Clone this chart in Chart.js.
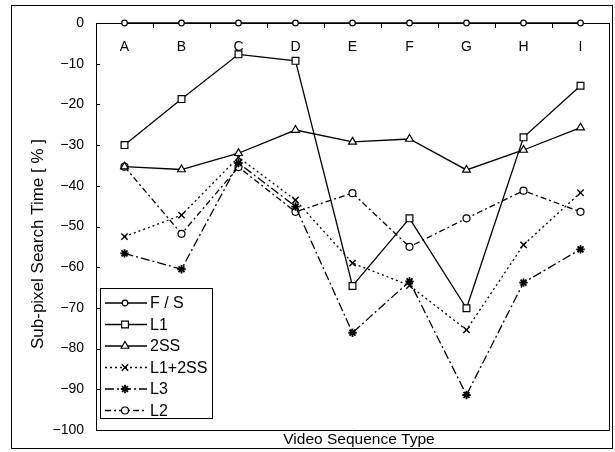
<!DOCTYPE html>
<html><head><meta charset="utf-8">
<script src="https://cdn.jsdelivr.net/npm/chart.js@4/dist/chart.umd.min.js"></script>
<style>html,body{margin:0;padding:0;background:#fff}#wrap{width:615px;height:452px;position:relative}</style>
</head><body><div id="wrap"><canvas id="c" width="615" height="452"></canvas></div>
<script>
const categories = ['A','B','C','D','E','F','G','H','I'];
const seriesNames = ['F / S','L1','2SS','L1+2SS','L3','L2'];
const fsValues    = [0,0,0,0,0,0,0,0,0];
const l1Values    = [-30,-18.7,-7.7,-9.3,-64.6,-48,-70.1,-28.1,-15.4];
const ss2Values   = [-35.3,-36,-32,-26.3,-29.2,-28.5,-36.1,-31.2,-25.7];
const l1ss2Values = [-52.5,-47.2,-33,-43.5,-59,-64.5,-75.4,-54.5,-41.7];
const l3Values    = [-56.6,-60.5,-34.4,-45.1,-76.1,-63.5,-91.4,-63.8,-55.6];
const l2Values    = [-35.3,-51.8,-35.4,-46.4,-41.8,-55,-48,-41.2,-46.4];
const yTickValues = [0,-10,-20,-30,-40,-50,-60,-70,-80,-90,-100];
const yTitle = 'Sub-pixel Search Time [ % ]';
const xTitle = 'Video Sequence Type';

const FONT = "'Liberation Sans', Arial, sans-serif";
Chart.defaults.font.family = FONT;
Chart.defaults.color = '#000';

const styles = [
  {pointStyle:'circle', radius:2.8, dash:[], pw:1.2},
  {pointStyle:'rect', radius:4.8, dash:[], pw:1.2},
  {pointStyle:'triangle', radius:4.5, dash:[], pw:1.2},
  {pointStyle:'crossRot', radius:4.5, dash:[2,3], pw:1.4},
  {pointStyle:'star', radius:4.2, dash:[9,3,2,3], pw:1.8},
  {pointStyle:'circle', radius:3.5, dash:[6,3,2,3], pw:1.2}
];
const allValues = [fsValues,l1Values,ss2Values,l1ss2Values,l3Values,l2Values];

const datasets = allValues.map((vals,i)=>({
  label: seriesNames[i],
  data: vals,
  borderColor:'#000',
  borderWidth:1.3,
  borderDash: styles[i].dash,
  pointStyle: styles[i].pointStyle,
  pointRadius: styles[i].radius,
  pointBorderWidth: styles[i].pw,
  pointBorderColor:'#000',
  pointBackgroundColor:'#fff',
  tension:0,
  fill:false,
  clip:false
}));

const decor = {
  id:'decor',
  beforeDraw(chart){
    const ctx = chart.ctx;
    ctx.save();
    ctx.fillStyle='#fff';
    ctx.fillRect(0,0,chart.width,chart.height);
    ctx.restore();
  },
  afterDatasetsDraw(chart){
    const ctx = chart.ctx, a = chart.chartArea, ys = chart.scales.y;
    ctx.save();
    ctx.strokeStyle='#000';
    ctx.lineWidth=1;
    ctx.strokeRect(11.5,5.5,601,443);
    ctx.beginPath();
    ctx.moveTo(a.left, Math.round(a.bottom)+0.5);
    ctx.lineTo(Math.round(a.right)+0.5, Math.round(a.bottom)+0.5);
    ctx.lineTo(Math.round(a.right)+0.5, a.top);
    ctx.stroke();
    yTickValues.forEach(v=>{
      const y = Math.round(ys.getPixelForValue(v))+0.5;
      ctx.beginPath();
      ctx.moveTo(a.left, y); ctx.lineTo(a.left+4, y); ctx.stroke();
    });
    ctx.fillStyle='#000';
    ctx.font = '15.5px '+FONT;
    ctx.textAlign='center'; ctx.textBaseline='middle';
    ctx.fillText(xTitle, 359, 440);
    ctx.save();
    ctx.translate(38, 244);
    ctx.rotate(-Math.PI/2);
    ctx.font = '17px '+FONT;
    ctx.fillText(yTitle, 0, 0);
    ctx.restore();
    const bx=100.5, by=288.5, bw=112, bh=130;
    ctx.fillStyle='#fff';
    ctx.fillRect(bx,by,bw,bh);
    ctx.strokeRect(bx,by,bw,bh);
    ctx.font = '16px '+FONT;
    ctx.textAlign='left'; ctx.textBaseline='middle';
    seriesNames.forEach((name,i)=>{
      const y = 303 + i*21.5;
      const st = styles[i];
      ctx.save();
      ctx.lineWidth=1.3;
      ctx.setLineDash(st.dash);
      ctx.beginPath(); ctx.moveTo(105,y); ctx.lineTo(147,y); ctx.stroke();
      ctx.restore();
      ctx.save();
      ctx.fillStyle='#fff'; ctx.strokeStyle='#000'; ctx.lineWidth=st.pw;
      Chart.helpers.drawPoint(ctx,{pointStyle:st.pointStyle, radius:st.radius, borderWidth:st.pw, rotation:0},125,y);
      ctx.restore();
      ctx.fillStyle='#000';
      ctx.fillText(name,150,y+1);
    });
    ctx.restore();
  }
};

new Chart(document.getElementById('c'),{
  type:'line',
  data:{labels:categories, datasets},
  options:{
    responsive:false,
    animation:false,
    layout:{padding:{left:0,right:6,top:23,bottom:22}},
    plugins:{legend:{display:false},tooltip:{enabled:false}},
    scales:{
      x:{
        type:'category',
        position:{y:0},
        offset:true,
        grid:{display:true,drawOnChartArea:false,offset:true,tickLength:4,color:'#000',lineWidth:1},
        border:{display:true,color:'#000',width:1},
        ticks:{padding:12,font:{size:14},color:'#000'}
      },
      y:{
        min:-100,max:0,
        afterFit(s){s.width=96;},
        afterBuildTicks(s){s.ticks = yTickValues.map(v=>({value:v}));},
        grid:{display:false,drawTicks:false},
        border:{display:true,color:'#000',width:1},
        ticks:{padding:12,font:{size:14},color:'#000',
          callback:v=> v===0?'0':'\u2212'+Math.abs(v)}
      }
    }
  },
  plugins:[decor]
});
</script></body></html>
